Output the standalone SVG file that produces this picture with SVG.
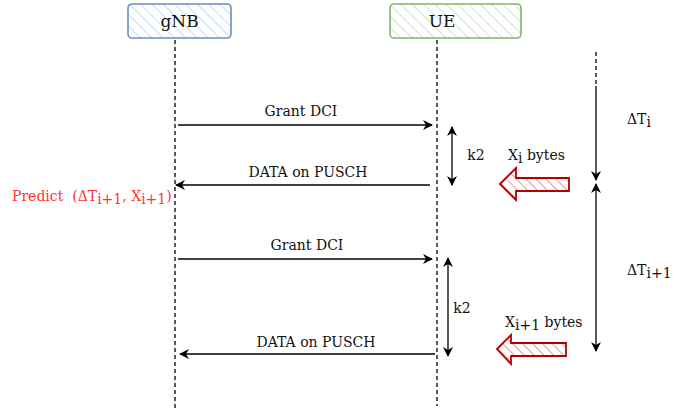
<svg xmlns="http://www.w3.org/2000/svg" width="689" height="412" viewBox="0 0 689 412">
  <defs>
    <pattern id="hatchBlue" patternUnits="userSpaceOnUse" width="8" height="8" patternTransform="rotate(-45)">
      <line x1="0" y1="0" x2="0" y2="8" stroke="#c9dcf3" stroke-width="2"/>
    </pattern>
    <pattern id="hatchGreen" patternUnits="userSpaceOnUse" width="8" height="8" patternTransform="rotate(-45)">
      <line x1="0" y1="0" x2="0" y2="8" stroke="#cfe3cd" stroke-width="2"/>
    </pattern>
    <pattern id="hatchRed" patternUnits="userSpaceOnUse" width="7" height="7" patternTransform="rotate(-45)">
      <line x1="0" y1="0" x2="0" y2="7" stroke="#ee2a2a" stroke-width="1"/>
    </pattern>
    <marker id="arr" viewBox="0 0 10 10" refX="9" refY="5" markerWidth="10" markerHeight="10" markerUnits="userSpaceOnUse" orient="auto-start-reverse">
      <path d="M0,0 L10,5 L0,10 L3,5 Z" fill="#000"/>
    </marker>
  </defs>
  <style>
    text { font-family: "DejaVu Serif", "Liberation Serif", serif; fill: #111; font-size: 14px; }
    .lbl { text-anchor: middle; }
    .head { font-size: 17px; text-anchor: middle; }
    .life { stroke: #000; stroke-width: 1.3; stroke-dasharray: 4 3; fill: none; }
    .msg { stroke: #000; stroke-width: 1.3; fill: none; }
    .block { fill: url(#hatchRed); stroke: #b20000; stroke-width: 1.8; stroke-linejoin: miter; }
  </style>

  <g id="gNB">
    <rect x="128" y="4" width="103" height="34" rx="4" fill="url(#hatchBlue)" stroke="#6c8ebf" stroke-width="1.6"/>
    <text class="head" x="179.5" y="27">gNB</text>
  </g>
  <g id="UE">
    <rect x="390" y="4" width="131" height="34" rx="4" fill="url(#hatchGreen)" stroke="#82b366" stroke-width="1.6"/>
    <text class="head" x="442" y="27">UE</text>
  </g>

  <g id="lifelines">
    <line class="life" x1="175" y1="40" x2="175" y2="408"/>
    <line class="life" x1="437" y1="40" x2="437" y2="406"/>
    <line class="life" x1="596" y1="52" x2="596" y2="86"/>
  </g>

  <g id="connectors">
    <line class="msg" x1="178" y1="125" x2="432" y2="125" marker-end="url(#arr)"/>
    <line class="msg" x1="430" y1="185" x2="176" y2="185" marker-end="url(#arr)"/>
    <line class="msg" x1="452" y1="127" x2="452" y2="185" marker-start="url(#arr)" marker-end="url(#arr)"/>
    <line class="msg" x1="178" y1="259" x2="432" y2="259" marker-end="url(#arr)"/>
    <line class="msg" x1="435" y1="354" x2="180" y2="354" marker-end="url(#arr)"/>
    <line class="msg" x1="448" y1="258" x2="448" y2="356" marker-start="url(#arr)" marker-end="url(#arr)"/>
    <line class="msg" x1="596" y1="86" x2="596" y2="180" marker-end="url(#arr)"/>
    <line class="msg" x1="596" y1="184" x2="596" y2="351" marker-start="url(#arr)" marker-end="url(#arr)"/>
  </g>

  <g id="labels">
    <text class="lbl" x="301" y="116">Grant DCI</text>
    <text class="lbl" x="308" y="177">DATA on PUSCH</text>
    <text class="lbl" x="476" y="160">k2</text>
    <text class="lbl" x="307" y="250">Grant DCI</text>
    <text class="lbl" x="316" y="347">DATA on PUSCH</text>
    <text class="lbl" x="462" y="313">k2</text>
    <text x="627" y="124">ΔT<tspan dy="3">i</tspan></text>
    <text x="627" y="275">ΔT<tspan dy="3">i+1</tspan></text>
    <text x="508" y="160">X<tspan dy="3">i</tspan><tspan dy="-3"> bytes</tspan></text>
    <text x="505" y="327">X<tspan dy="3">i+1</tspan><tspan dy="-3"> bytes</tspan></text>
    <text x="12" y="201" style="fill:#ff3333" xml:space="preserve">Predict  (ΔT<tspan dy="3">i+1</tspan><tspan dy="-3">, X</tspan><tspan dy="3">i+1</tspan><tspan dy="-3">)</tspan></text>
  </g>

  <g id="data-in-1">
    <polygon class="block" points="500,184 516,168 516,178 569,178 569,191 516,191 516,200"/>
  </g>
  <g id="data-in-2">
    <polygon class="block" points="497,349 511,335 511,343 566,343 566,356 511,356 511,364"/>
  </g>
</svg>
